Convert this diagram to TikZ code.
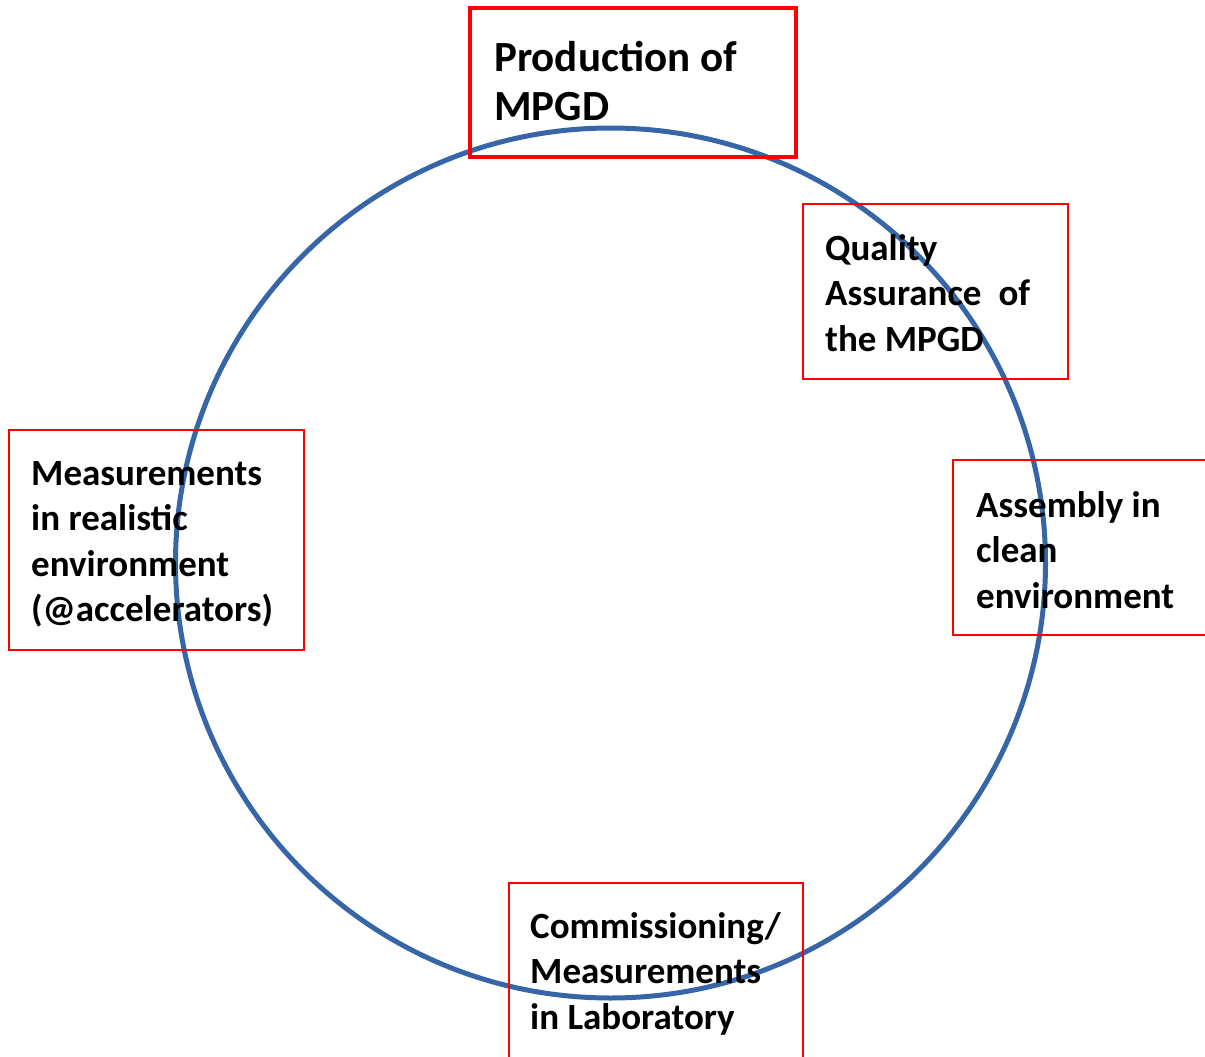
\documentclass[tikz,border=0pt]{standalone}
\usepackage{fontspec}
\setmainfont{Carlito}
\begin{document}
\begin{tikzpicture}[x=1pt,y=-1pt,
  cyclering/.style={draw={rgb,255:red,54;green,101;blue,168},line width=5pt},
  stagebox/.style={draw=red,line width=2pt},
  mainbox/.style={draw=red,line width=4.5pt},
  stagetext/.style={anchor=base west,inner sep=0pt,align=left,
    font=\fontsize{37}{45.5}\selectfont\bfseries},
  maintext/.style={anchor=base west,inner sep=0pt,align=left,
    font=\fontsize{43}{48}\selectfont\bfseries}]
\useasboundingbox (0,0) rectangle (1205,1057);
\clip (0,0) rectangle (1205,1057);
% the cycle
\draw[cyclering] (610.5,563) circle[radius=435];
% frames of the stages
\draw[mainbox] (470,8) rectangle (796,157);
\draw[stagebox] (803,204) rectangle (1068,379);
\draw[stagebox] (953,460) rectangle (1215,635);
\draw[stagebox] (509,883) rectangle (803,1070);
\draw[stagebox] (9,430) rectangle (304,650);
% labels (anchored at the baseline of their last line)
\node[maintext] (prod) at (494,120) {Production of\\MPGD};
\node[stagetext] (qa) at (825,351) {Quality\\Assurance\hspace{0.46em}of\\the MPGD};
\node[stagetext] (asm) at (976,608) {Assembly in\\clean\\environment};
\node[stagetext] (lab) at (530,1029) {Commissioning/\\Measurements\\in Laboratory};
\node[stagetext] (acc) at (31,621.5) {Measurements\\in realistic\\environment\\(@accelerators)};
\end{tikzpicture}
\end{document}
